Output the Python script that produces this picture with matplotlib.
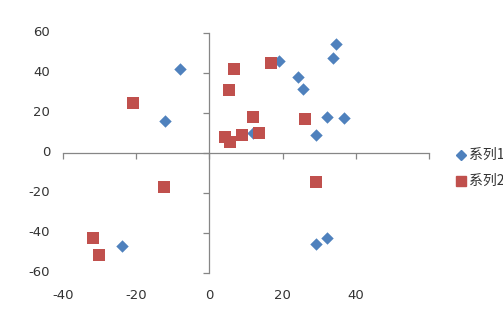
import matplotlib
matplotlib.use("Agg")
import matplotlib.pyplot as plt
from matplotlib.transforms import blended_transform_factory
from matplotlib.lines import Line2D

plt.rcParams['font.family'] = ['Noto Sans CJK SC', 'DejaVu Sans']

series_names = ["系列1", "系列2"]
s1_x = [-8.1, -12.2, 18.9, 24.2, 25.6, 34.6, 33.8, 32.0, 36.9, 29.0, -23.8, 29.2, 32.2, 12.0]
s1_y = [42.0, 16.2, 46.2, 37.8, 31.8, 54.5, 47.7, 18.2, 17.3, 9.2, -46.7, -45.5, -42.5, 10.0]
s2_x = [-21.0, 6.6, 5.4, 4.2, 5.5, 8.8, 11.9, 13.5, 16.9, 26.2, -12.4, -31.8, -30.2, 29.1]
s2_y = [25.0, 42.2, 31.7, 7.8, 5.7, 8.8, 18.2, 9.8, 45.2, 17.2, -16.8, -42.3, -51.0, -14.7]
x_ticks = [-40, -20, 0, 20, 40, 60]
x_tick_labels = ["-40", "-20", "0", "20", "40", ""]
y_ticks = [-60, -40, -20, 0, 20, 40, 60]
y_tick_labels = ["-60", "-40", "-20", "0", "20", "40", "60"]

blue = "#4F81BD"
red = "#C0504D"
axis_col = "#868686"
text_col = "#333333"

fig = plt.figure(figsize=(5.03, 3.15), dpi=100)
ax = fig.add_axes([63/503, 42/315, 366/503, 240/315])
ax.set_xlim(-40, 60)
ax.set_ylim(-60, 60)

ax.scatter(s1_x, s1_y, marker="D", s=40, color=blue, linewidths=0, zorder=3, clip_on=False)
ax.scatter(s2_x, s2_y, marker="s", s=80, color=red, linewidths=0, zorder=4, clip_on=False)

for side in ["top", "right"]:
    ax.spines[side].set_visible(False)
ax.spines["left"].set_position(("data", 0))
ax.spines["bottom"].set_position(("data", 0))
for side in ["left", "bottom"]:
    ax.spines[side].set_color(axis_col)
    ax.spines[side].set_linewidth(0.9)
ax.set_xticks(x_ticks)
ax.set_yticks(y_ticks)
ax.tick_params(axis="both", direction="out", length=4, width=0.9, color=axis_col,
               labelleft=False, labelbottom=False)

tx = blended_transform_factory(ax.transData, ax.transAxes)
for v, lab in zip(x_ticks, x_tick_labels):
    ax.text(v, -0.095, lab, transform=tx, ha="center", va="center",
            fontsize=9.5, color=text_col, family="DejaVu Sans")
ty = blended_transform_factory(ax.transAxes, ax.transData)
for v, lab in zip(y_ticks, y_tick_labels):
    ax.text(-0.035, v, lab, transform=ty, ha="right", va="center",
            fontsize=9.5, color=text_col, family="DejaVu Sans")

# legend
fig.add_artist(Line2D([461/503], [1 - 155/315], marker="D", markersize=5,
                      color=blue, linestyle="none", transform=fig.transFigure))
fig.add_artist(Line2D([461/503], [1 - 181/315], marker="s", markersize=7,
                      color=red, linestyle="none", transform=fig.transFigure))
fig.text(469/503, 1 - 155/315, series_names[0], ha="left", va="center",
         fontsize=10, color=text_col)
fig.text(469/503, 1 - 181/315, series_names[1], ha="left", va="center",
         fontsize=10, color=text_col)

fig.savefig("out.png", dpi=100)
